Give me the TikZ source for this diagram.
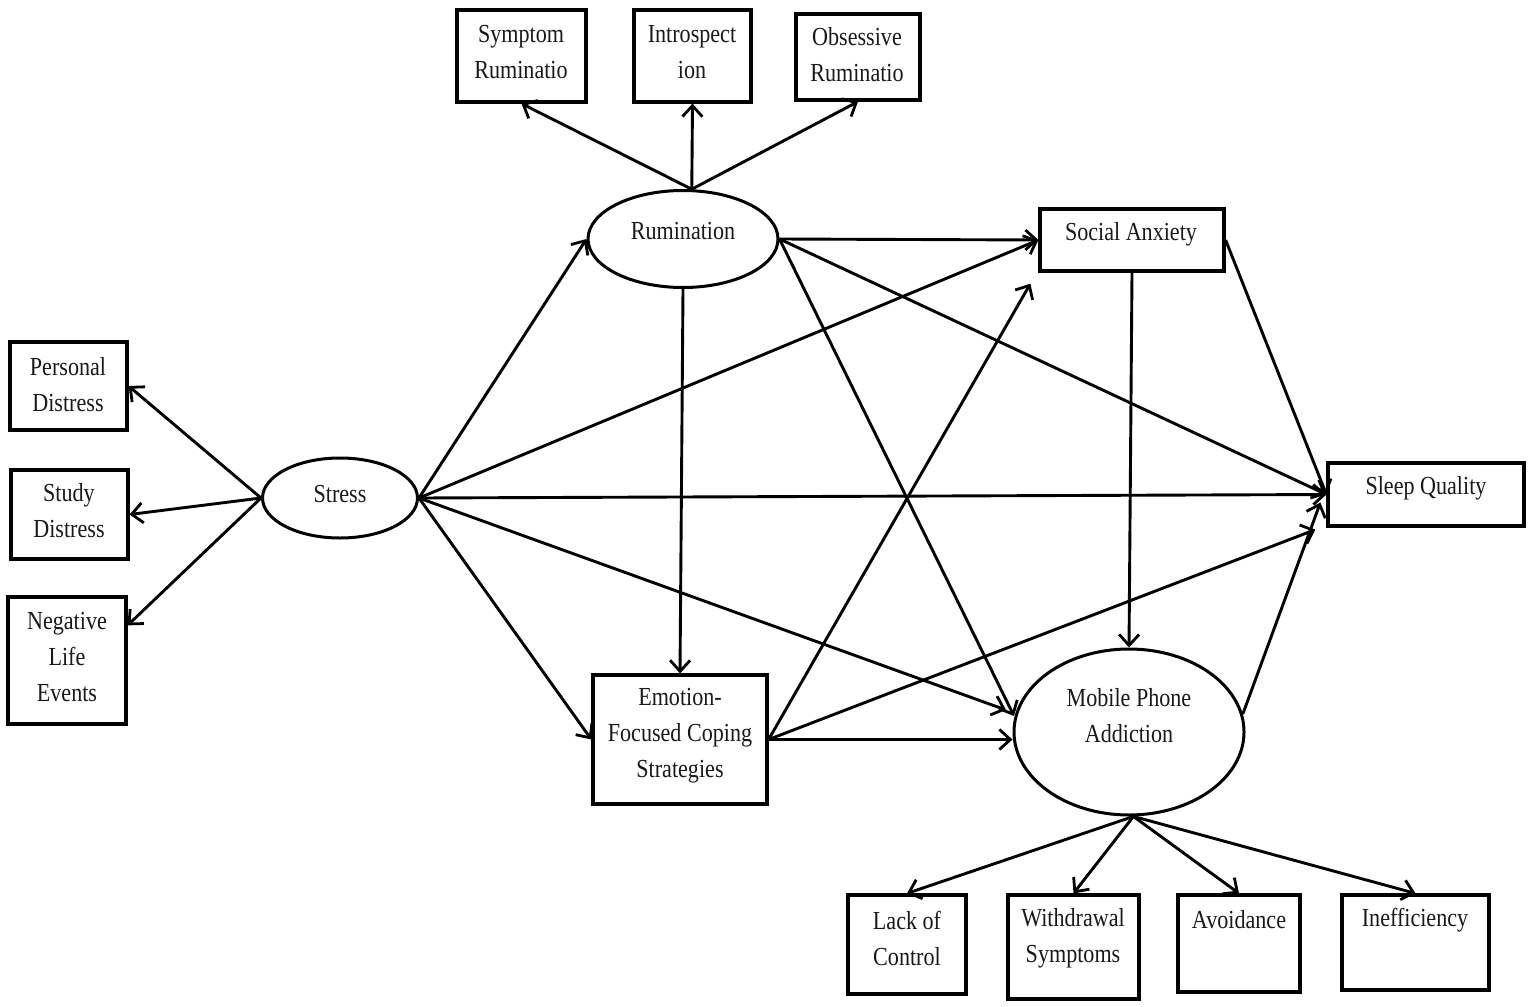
\documentclass[tikz,border=0pt]{standalone}
\usepackage{fontspec}
\setmainfont{Liberation Serif}[FakeStretch=0.85]
\usetikzlibrary{arrows.meta,shapes.geometric,fit,calc}
\begin{document}
\begin{tikzpicture}[x=0.5pt,y=-0.5pt,
  box/.style={draw=black,line width=1.6pt,inner sep=0pt,rectangle},
  oval/.style={draw=black,line width=1.5pt,inner sep=0pt,ellipse},
  txt/.style={font=\fontsize{13}{18}\selectfont,align=center,inner sep=0pt,text=black!90},
  arr/.style={draw=black,line width=1.45pt,-{Straight Barb[length=5.5pt,width=10pt,line width=1.4pt]}}]
\fill[white] (0,0) rectangle (1535,1006);
\useasboundingbox (0,0) rectangle (1535,1006);

% boxes
\node[box,fit={(457,10)(586,102)}] (sym) {};
\node[box,fit={(634,10)(751,102)}] (intro) {};
\node[box,fit={(796,14)(920,100)}] (obs) {};
\node[box,fit={(1040,209)(1224,271)}] (sa) {};
\node[box,fit={(1328,463)(1524,526)}] (sq) {};
\node[box,fit={(10,342)(127,430)}] (pd) {};
\node[box,fit={(11,470)(128,559)}] (sd) {};
\node[box,fit={(8,597)(126,724)}] (nle) {};
\node[box,fit={(593,675)(767,804)}] (emo) {};
\node[box,fit={(848,895)(966,994)}] (lack) {};
\node[box,fit={(1008,895)(1139,999)}] (with) {};
\node[box,fit={(1178,895)(1300,992)}] (avoid) {};
\node[box,fit={(1342,895)(1489,990)}] (ineff) {};

% ellipses
\node[oval,minimum width=95pt,minimum height=48.5pt] (rum) at (683,239) {};
\node[oval,minimum width=77.5pt,minimum height=40pt] (stress) at (340,498) {};
\node[oval,minimum width=115pt,minimum height=83pt] (mob) at (1129,732) {};

% texts
\node[txt] (tsym) at (521,52) {Symptom\\Ruminatio};
\node[txt] (tintro) at (692,52) {Introspect\\ion};
\node[txt] (tobs) at (857,55) {Obsessive\\Ruminatio};
\node[txt] (trum) at (683,231) {Rumination};
\node[txt] (tsa) at (1131,234) {Social Anxiety};
\node[txt] (tsq) at (1426,488) {Sleep Quality};
\node[txt] (tpd) at (68,385) {Personal\\Distress};
\node[txt] (tsd) at (69,511) {Study\\Distress};
\node[txt] (tnle) at (67,657) {Negative\\Life\\Events};
\node[txt] (tstress) at (340,494) {Stress};
\node[txt] (temo) at (680,736) {Emotion-\\Focused Coping\\Strategies};
\node[txt] (tmob) at (1129,716) {Mobile Phone\\Addiction};
\node[txt] (tlack) at (907,938) {Lack of\\Control};
\node[txt] (twith) at (1073,938) {Withdrawal\\Symptoms};
\node[txt] (tavoid) at (1239,920) {Avoidance};
\node[txt] (tineff) at (1415,920) {Inefficiency};

% helper points
\coordinate (nleP) at ($(nle.north east)!0.23!(nle.south east)$);
\coordinate (saP) at ($(sa.south west)+(-8,11)$);
\coordinate (sqE) at ($(sq.south west)+(-11,2)$);
\coordinate (sqM) at ($(sq.west)+(-6,8)$);
\coordinate (mobA) at ($(mob.center)+(-123,-22)$);
\coordinate (mobB) at ($(mob.center)+(-115,-16)$);

% rumination indicators
\draw[arr] (rum.80) -- (sym.south);
\draw[arr] (rum.80) -- (intro.south);
\draw[arr] (rum.80) -- (obs.south);

% stress indicators
\draw[arr] (stress.west) -- (pd.east);
\draw[arr] (stress.west) -- (sd.east);
\draw[arr] (stress.west) -- (nleP);

% stress paths
\draw[arr] (stress.east) -- (rum.west);
\draw[arr] (stress.east) -- (sa.west);
\draw[arr] (stress.east) -- (sq.west);
\draw[arr] (stress.east) -- (mobA);
\draw[arr] (stress.east) -- (emo.west);

% rumination paths
\draw[arr] (rum.east) -- (sa.west);
\draw[arr] (rum.east) -- (sq.west);
\draw[arr] (rum.east) -- (mobB);
\draw[arr] (rum.south) -- (emo.north);

% coping paths
\draw[arr] (emo.east) -- (saP);
\draw[arr] (emo.east) -- (sqE);
\draw[arr] (emo.east) -- (emo.east -| mob.west);

% social anxiety paths
\draw[arr] (sa.south) -- (mob.north);
\draw[arr] (sa.east) -- (sq.west);

% mobile phone addiction
\draw[arr] (mob.9) -- (sqM);
\draw[arr] (mob.-87) -- (lack.north);
\draw[arr] (mob.-87) -- (with.north);
\draw[arr] (mob.-87) -- (avoid.north);
\draw[arr] (mob.-87) -- (ineff.north);
\end{tikzpicture}
\end{document}
